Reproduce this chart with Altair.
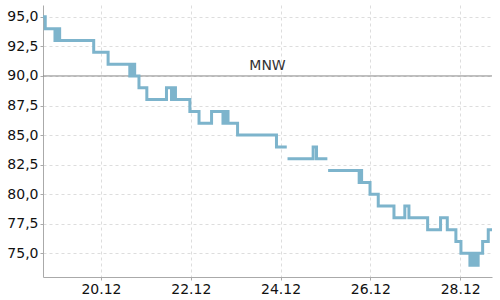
import altair as alt
import pandas as pd

# Water level readings (step changes), Dec 2023
times = [
    "2023-12-18T17:00", "2023-12-18T18:12", "2023-12-18T23:24", "2023-12-19T01:00",
    "2023-12-19T01:54", "2023-12-19T20:06", "2023-12-20T03:48", "2023-12-20T15:24",
    "2023-12-20T16:24", "2023-12-20T17:12", "2023-12-20T17:36", "2023-12-20T18:00",
    "2023-12-20T20:18", "2023-12-21T00:30", "2023-12-21T11:00", "2023-12-21T13:42",
    "2023-12-21T15:06", "2023-12-21T15:48",
    "2023-12-21T23:30", "2023-12-22T04:24", "2023-12-22T11:06", "2023-12-22T17:12",
    "2023-12-22T18:24", "2023-12-22T19:54", "2023-12-23T01:00", "2023-12-23T21:48",
    "2023-12-24T03:18", "2023-12-24T03:30", "2023-12-24T03:42", "2023-12-24T17:24",
    "2023-12-24T19:12", "2023-12-25T01:00", "2023-12-25T01:12", "2023-12-25T01:24",
    "2023-12-25T18:00", "2023-12-25T18:36", "2023-12-25T19:18", "2023-12-25T23:48",
    "2023-12-26T04:12", "2023-12-26T12:36", "2023-12-26T18:24", "2023-12-26T20:36",
    "2023-12-27T06:36", "2023-12-27T13:30", "2023-12-27T17:06", "2023-12-27T21:42",
    "2023-12-28T00:24", "2023-12-28T05:12", "2023-12-28T06:12", "2023-12-28T06:48",
    "2023-12-28T07:48", "2023-12-28T08:24", "2023-12-28T09:36", "2023-12-28T12:00",
    "2023-12-28T15:00", "2023-12-28T17:00",
]
levels = [
    95, 94, 93, 94,
    93, 92, 91, 90,
    91, 90, 91, 90,
    89, 88, 89, 88,
    89, 88,
    87, 86, 87, 86,
    87, 86, 85, 84,
    84, None, 83, 84,
    83, 83, None, 82,
    81, 82, 81, 80,
    79, 78, 79, 78,
    77, 78, 77, 76,
    75, 74, 75, 74,
    75, 74, 75, 76,
    77, 77,
]

mnw_value = 90
mnw_label = "MNW"
y_ticks = [75, 77.5, 80, 82.5, 85, 87.5, 90, 92.5, 95]
x_tick_days = [20, 22, 24, 26, 28]

df = pd.DataFrame({"time": pd.to_datetime(times), "level": levels})

W, H = 449, 272

x_scale = alt.Scale(
    domain=[alt.DateTime(year=2023, month=12, date=18, hours=17),
            alt.DateTime(year=2023, month=12, date=28, hours=17)],
    nice=False,
)
y_scale = alt.Scale(domain=[73, 96], nice=False, zero=False)

x_axis = alt.Axis(
    values=[alt.DateTime(year=2023, month=12, date=d) for d in x_tick_days],
    format="%d.%m", title=None, labelFlush=False,
)
y_axis = alt.Axis(
    values=y_ticks, title=None,
    labelExpr="replace(format(datum.value, '.1f'), '.', ',')",
)

line = alt.Chart(df).mark_line(
    interpolate="step-after", color="#7db4cc", strokeWidth=3
).encode(
    x=alt.X("time:T", scale=x_scale, axis=x_axis),
    y=alt.Y("level:Q", scale=y_scale, axis=y_axis),
)

rule = alt.Chart(pd.DataFrame({"v": [mnw_value]})).mark_rule(
    color="#888888", strokeWidth=1
).encode(y=alt.Y("v:Q", scale=y_scale, axis=y_axis))

label = alt.Chart(pd.DataFrame({"v": [mnw_value], "t": [mnw_label]})).mark_text(
    fontSize=14, font="DejaVu Sans", color="#333333", baseline="bottom", dy=-3
).encode(
    x=alt.value(W / 2),
    y=alt.Y("v:Q", scale=y_scale, axis=y_axis),
    text="t:N",
)

chart = alt.layer(rule, line, label).properties(
    width=W, height=H,
    autosize=alt.AutoSizeParams(type="none"),
    padding={"left": 43, "top": 5, "right": 8, "bottom": 23},
).configure_view(stroke=None).configure_axis(
    domainColor="#aaaaaa", tickColor="#aaaaaa", tickSize=3,
    gridColor="#dddddd", gridDash=[3, 3],
    labelFont="DejaVu Sans", labelFontSize=14, labelColor="#111111",
    labelPadding=2,
)

chart.save("out.html", embed_options={"renderer": "svg", "actions": False})
